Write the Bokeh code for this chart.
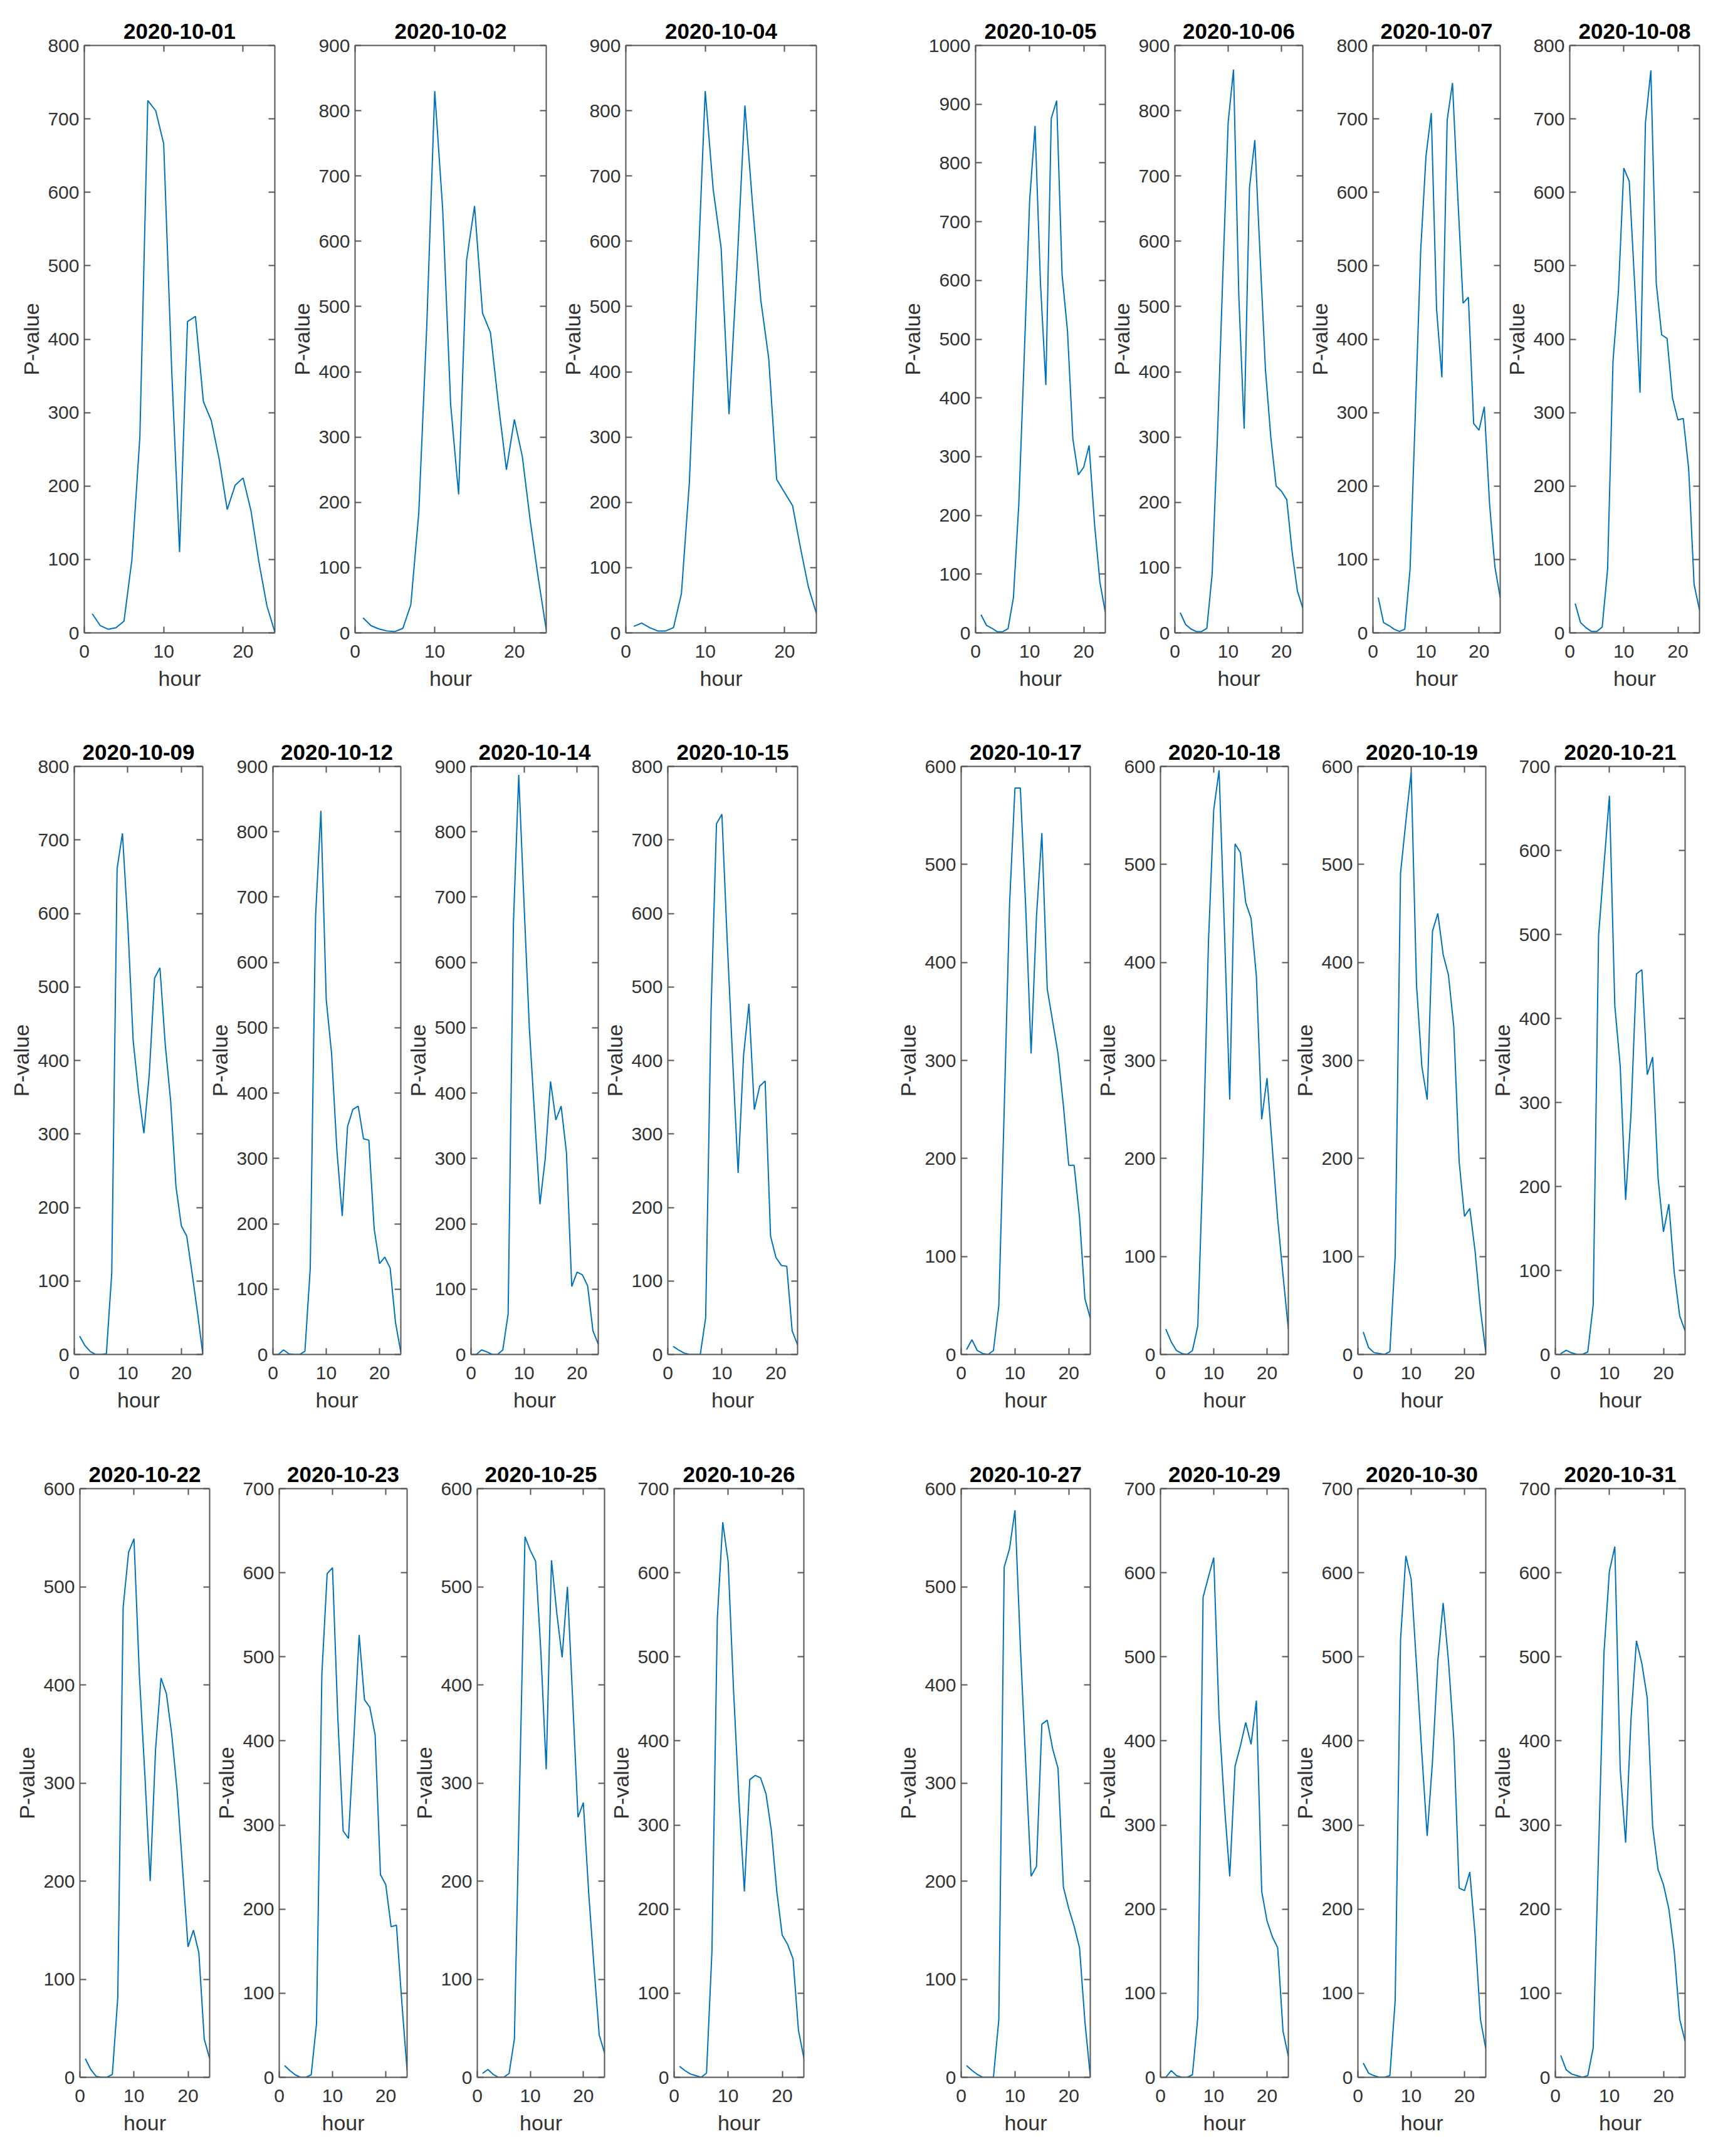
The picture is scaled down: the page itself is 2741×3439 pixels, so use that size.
from bokeh.plotting import figure
from bokeh.layouts import row, column
from bokeh.models import Range1d, FixedTicker, LinearAxis
from bokeh.embed import file_html
from bokeh.resources import INLINE

# ---------------- data ----------------
hours = [1, 2, 3, 4, 5, 6, 7, 8, 9, 10, 11, 12, 13, 14, 15, 16, 17, 18, 19, 20, 21, 22, 23, 24]
x_ticks = [0, 10, 20]

dates_row1 = ["2020-10-01", "2020-10-02", "2020-10-04", "2020-10-05", "2020-10-06", "2020-10-07", "2020-10-08"]
dates_row2 = ["2020-10-09", "2020-10-12", "2020-10-14", "2020-10-15", "2020-10-17", "2020-10-18", "2020-10-19", "2020-10-21"]
dates_row3 = ["2020-10-22", "2020-10-23", "2020-10-25", "2020-10-26", "2020-10-27", "2020-10-29", "2020-10-30", "2020-10-31"]

v_1001 = [26, 10, 5, 7, 16, 100, 267, 725, 711, 666, 360, 110, 424, 431, 315, 289, 236, 168, 201, 211, 166, 96, 37, 1]
v_1002 = [23, 11, 6, 3, 2, 7, 43, 184, 470, 830, 649, 350, 212, 571, 654, 490, 460, 350, 250, 327, 270, 171, 84, 5]
v_1004 = [10, 15, 8, 3, 3, 8, 60, 230, 530, 830, 680, 590, 335, 560, 808, 650, 510, 420, 235, 215, 195, 130, 70, 30]
v_1005 = [31, 13, 8, 2, 2, 7, 60, 220, 470, 736, 863, 596, 422, 876, 906, 610, 514, 330, 269, 282, 319, 186, 86, 35]
v_1006 = [31, 13, 6, 2, 2, 7, 91, 303, 549, 782, 863, 516, 313, 682, 755, 576, 403, 300, 225, 217, 204, 124, 64, 38]
v_1007 = [48, 14, 10, 5, 2, 5, 87, 300, 520, 649, 708, 441, 348, 698, 749, 594, 449, 457, 285, 276, 308, 175, 90, 48]
v_1008 = [40, 14, 7, 2, 2, 8, 87, 370, 465, 633, 615, 476, 327, 695, 766, 476, 406, 401, 320, 290, 292, 223, 66, 31]

v_1009 = [25, 12, 4, 0, 0, 1, 111, 661, 709, 585, 427, 357, 301, 380, 512, 526, 421, 345, 228, 175, 161, 111, 58, 1]
v_1012 = [0, 7, 1, 0, 0, 5, 132, 671, 832, 543, 461, 313, 212, 349, 375, 380, 330, 328, 192, 139, 149, 132, 49, 3]
v_1014 = [0, 7, 4, 0, 0, 7, 62, 660, 887, 690, 500, 365, 230, 300, 418, 359, 380, 309, 104, 126, 122, 105, 36, 16]
v_1015 = [11, 6, 2, 0, 0, 0, 50, 468, 722, 735, 560, 400, 247, 406, 477, 333, 365, 372, 161, 132, 121, 120, 32, 13]
v_1017 = [5, 15, 4, 1, 0, 4, 50, 250, 460, 578, 578, 456, 307, 447, 532, 373, 340, 307, 254, 193, 193, 140, 57, 37]
v_1018 = [26, 13, 4, 1, 0, 4, 29, 200, 420, 556, 596, 434, 260, 521, 512, 461, 445, 386, 240, 282, 210, 138, 81, 26]
v_1019 = [23, 7, 2, 1, 0, 3, 101, 491, 544, 594, 377, 294, 260, 432, 450, 408, 387, 334, 197, 141, 149, 105, 46, 2]
v_1021 = [1, 5, 2, 0, 0, 3, 59, 499, 583, 665, 415, 343, 184, 287, 453, 458, 333, 354, 210, 146, 179, 97, 46, 28]

v_1022 = [19, 8, 1, 0, 0, 3, 81, 479, 535, 549, 410, 310, 200, 335, 407, 391, 349, 291, 212, 133, 150, 127, 39, 19]
v_1023 = [14, 8, 3, 0, 0, 3, 64, 479, 599, 606, 427, 293, 284, 402, 526, 449, 440, 407, 241, 229, 179, 181, 90, 8]
v_1025 = [4, 8, 3, 0, 0, 4, 39, 300, 551, 537, 526, 433, 314, 527, 473, 428, 500, 384, 265, 280, 189, 114, 43, 25]
v_1026 = [13, 8, 4, 2, 0, 5, 150, 546, 660, 613, 460, 330, 221, 354, 359, 356, 337, 293, 221, 169, 158, 141, 56, 23]
v_1027 = [12, 7, 3, 0, 0, 0, 59, 520, 539, 578, 440, 320, 205, 215, 360, 364, 335, 315, 194, 172, 154, 132, 57, 1]
v_1029 = [0, 8, 2, 0, 0, 3, 71, 571, 595, 618, 427, 324, 239, 370, 394, 422, 396, 448, 221, 186, 167, 154, 55, 25]
v_1030 = [17, 5, 2, 0, 0, 2, 92, 520, 620, 592, 490, 385, 287, 376, 495, 564, 495, 402, 225, 222, 244, 169, 69, 34]
v_1031 = [26, 9, 4, 2, 0, 2, 35, 270, 505, 602, 631, 366, 279, 427, 519, 492, 451, 298, 247, 229, 200, 149, 69, 43]

ymax_row1 = [800, 900, 900, 1000, 900, 800, 800]
ymax_row2 = [800, 900, 900, 800, 600, 600, 600, 700]
ymax_row3 = [600, 700, 600, 700, 600, 700, 700, 700]

series_row1 = [v_1001, v_1002, v_1004, v_1005, v_1006, v_1007, v_1008]
series_row2 = [v_1009, v_1012, v_1014, v_1015, v_1017, v_1018, v_1019, v_1021]
series_row3 = [v_1022, v_1023, v_1025, v_1026, v_1027, v_1029, v_1030, v_1031]

# ---------------- style / layout ----------------
FONT = "Liberation Sans"
BLUE = "#0072BD"
FRAME = "#555555"
TXT = "#333333"
TOTAL_W = 2735

layout_rows = [
    dict(lefts=[134, 566, 998, 1556, 1873, 2190, 2503],
         rights=[438, 871, 1302, 1763, 2078, 2393, 2711],
         y0=0, y1=1158, ftop=72, fbot=1009),
    dict(lefts=[118, 435, 751, 1064, 1533, 1851, 2165, 2481],
         rights=[323, 639, 954, 1272, 1739, 2055, 2370, 2688],
         y0=1158, y1=2310, ftop=1222, fbot=2160),
    dict(lefts=[127, 445, 761, 1075, 1533, 1851, 2165, 2481],
         rights=[334, 649, 964, 1282, 1739, 2055, 2370, 2688],
         y0=2310, y1=3430, ftop=2374, fbot=3313),
]


def style_axis(ax, show_labels=True):
    ax.major_tick_in = 10
    ax.major_tick_out = 0
    ax.minor_tick_line_color = None
    ax.axis_line_color = FRAME
    ax.axis_line_width = 2
    ax.major_tick_line_color = FRAME
    ax.major_tick_line_width = 2
    if show_labels:
        ax.major_label_text_font = FONT
        ax.major_label_text_font_size = "30px"
        ax.major_label_text_color = TXT
        ax.axis_label_text_font = FONT
        ax.axis_label_text_font_size = "34px"
        ax.axis_label_text_font_style = "normal"
        ax.axis_label_text_color = TXT
    else:
        ax.major_label_text_font_size = "1px"
        ax.major_label_standoff = 0
        ax.axis_label = None


def make_panel(title, values, ymax, width, height, lb, rb, tb, bb):
    p = figure(width=width, height=height,
               x_range=Range1d(0, 24), y_range=Range1d(0, ymax),
               output_backend="svg", toolbar_location=None,
               min_border_left=lb, min_border_right=rb,
               min_border_top=tb, min_border_bottom=bb,
               x_axis_label="hour", y_axis_label="P-value", title=title)
    p.line(hours, values, line_color=BLUE, line_width=2)
    yt = list(range(0, ymax + 1, 100))
    p.xaxis.ticker = FixedTicker(ticks=x_ticks)
    p.yaxis.ticker = FixedTicker(ticks=yt)
    for ax in p.xaxis:
        style_axis(ax)
        ax.major_label_standoff = 19
        ax.axis_label_standoff = 11
    for ax in p.yaxis:
        style_axis(ax)
        ax.major_label_standoff = 8
        ax.axis_label_standoff = 4
    right = LinearAxis(ticker=FixedTicker(ticks=yt),
                       major_label_overrides={t: "" for t in yt})
    top = LinearAxis(ticker=FixedTicker(ticks=x_ticks),
                     major_label_overrides={t: "" for t in x_ticks})
    style_axis(right, False)
    style_axis(top, False)
    p.add_layout(right, "right")
    p.add_layout(top, "above")
    p.xgrid.visible = False
    p.ygrid.visible = False
    p.outline_line_color = None
    p.background_fill_color = "white"
    p.border_fill_color = "white"
    p.title.align = "center"
    p.title.text_font = FONT
    p.title.text_font_size = "35px"
    p.title.text_font_style = "bold"
    p.title.text_color = "black"
    p.title.standoff = 21
    return p


all_dates = [dates_row1, dates_row2, dates_row3]
all_series = [series_row1, series_row2, series_row3]
all_ymax = [ymax_row1, ymax_row2, ymax_row3]

rows = []
for lay, dates, series, ymaxes in zip(layout_rows, all_dates, all_series, all_ymax):
    figs = []
    x0 = 0
    n = len(dates)
    height = lay["y1"] - lay["y0"]
    tb = lay["ftop"] - lay["y0"]
    bb = lay["y1"] - lay["fbot"]
    for i in range(n):
        L, R = lay["lefts"][i], lay["rights"][i]
        x1 = R + 5 if i < n - 1 else TOTAL_W
        lb = L - x0
        rb = x1 - R
        figs.append(make_panel(dates[i], series[i], ymaxes[i], x1 - x0, height, lb, rb, tb, bb))
        x0 = x1
    rows.append(row(*figs, spacing=0))

page = column(*rows, spacing=0)
open("out.html", "w").write(file_html(page, INLINE))
